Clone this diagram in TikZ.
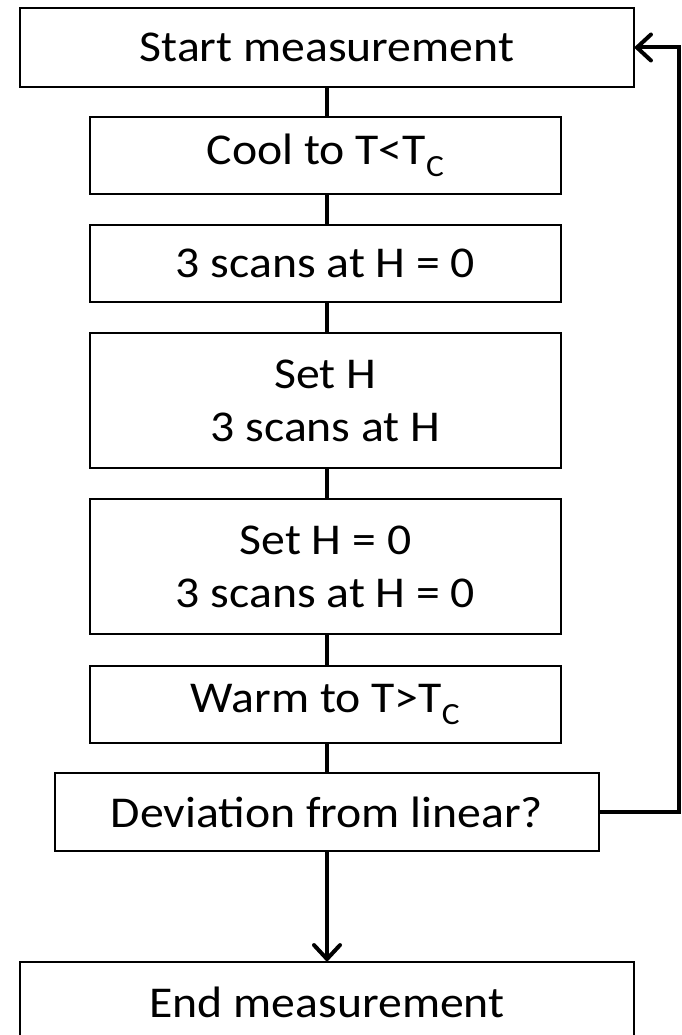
\documentclass[tikz,border=0pt]{standalone}
\usepackage{fontspec}
\setmainfont[FakeStretch=1.085]{Carlito}
\usetikzlibrary{arrows.meta}
\begin{document}
\begin{tikzpicture}[x=1pt,y=-1pt,
  stepbox/.style={draw=black,line width=1.6pt,fill=white,inner sep=0pt,outer sep=0pt,
    minimum width=#1,align=center,font=\fontsize{44}{53}\selectfont},
  link/.style={line width=4pt},
  arr/.style={line width=4pt,-{Straight Barb[length=14pt,width=26pt,line cap=round]}}]
\useasboundingbox (0,0) rectangle (681,1035);
\node[stepbox=614pt,minimum height=79pt] (start) at (327,47.5) {Start measurement};
\node[stepbox=471pt,minimum height=77pt] (cool) at (325.5,155.5) {Cool to T<T\textsubscript{C}};
\node[stepbox=471pt,minimum height=77pt] (scan0) at (325.5,263.5) {3 scans at H = 0};
\node[stepbox=471pt,minimum height=135pt] (seth) at (325.5,400.5) {Set H\\3 scans at H};
\node[stepbox=471pt,minimum height=135pt] (seth0) at (325.5,566.5) {Set H = 0\\3 scans at H = 0};
\node[stepbox=471pt,minimum height=77pt] (warm) at (325.5,704.5) {Warm to T>T\textsubscript{C}};
\node[stepbox=544pt,minimum height=78pt] (dev) at (327,812) {Deviation from linear?};
\node[stepbox=614pt,minimum height=80pt] (end) at (327,1002) {End measurement};
\draw[link] (start.south) -- (start.south |- cool.north);
\draw[link] (start.south |- cool.south) -- (start.south |- scan0.north);
\draw[link] (start.south |- scan0.south) -- (start.south |- seth.north);
\draw[link] (start.south |- seth.south) -- (start.south |- seth0.north);
\draw[link] (start.south |- seth0.south) -- (start.south |- warm.north);
\draw[link] (start.south |- warm.south) -- (dev.north);
\coordinate (rc) at (679,812);
\draw[arr] (dev.east) -- (rc) -- (rc |- start.east) -- (start.east);
\draw[arr] (dev.south) -- (end.north);
\end{tikzpicture}
\end{document}
